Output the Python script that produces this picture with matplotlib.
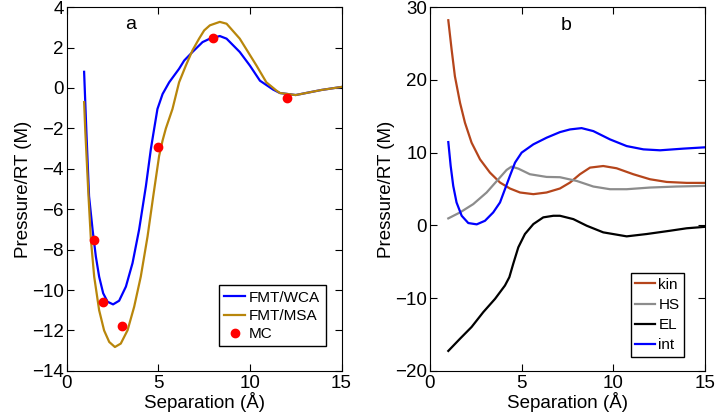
import matplotlib.pyplot as plt
import numpy as np

plt.rcParams['font.family'] = ['Liberation Sans', 'DejaVu Sans']

# panel a: pressure curves
x_wca = [0.96, 1.09, 1.23, 1.42, 1.6, 1.78, 2.0, 2.24, 2.54, 2.87, 3.24, 3.6, 3.96, 4.33,
         4.6, 4.73, 4.96, 5.24, 5.6, 6.14, 6.42, 6.87, 7.42, 7.82, 8.36, 8.73, 9.45,
         10.0, 10.55, 11.27, 11.64, 12.5, 13.9, 15.0]
y_wca = [0.8, -2.3, -5.36, -7.0, -8.34, -9.34, -10.16, -10.58, -10.71, -10.53, -9.83, -8.67,
         -7.01, -4.86, -3.03, -2.3, -1.04, -0.3, 0.28, 0.95, 1.36, 1.78, 2.27, 2.44, 2.57,
         2.44, 1.78, 1.11, 0.36, -0.08, -0.25, -0.35, -0.1, 0.05]
x_msa = [0.96, 1.02, 1.2, 1.33, 1.51, 1.78, 2.05, 2.33, 2.64, 2.96, 3.33, 3.69, 4.05, 4.42,
         4.73, 5.05, 5.24, 5.42, 5.78, 6.14, 6.51, 6.87, 7.23, 7.51, 7.82, 8.36, 8.73, 9.45,
         10.36, 10.9, 11.45, 11.64, 12.5, 13.9, 15.0]
y_msa = [-0.7, -2.04, -5.36, -7.5, -9.34, -11.0, -12.0, -12.57, -12.82, -12.65, -11.99, -10.83,
         -9.34, -7.35, -5.36, -3.37, -2.6, -2.0, -1.04, 0.28, 1.11, 1.86, 2.44, 2.85, 3.1, 3.27,
         3.18, 2.44, 1.11, 0.28, -0.13, -0.25, -0.35, -0.1, 0.05]
x_mc = [1.5, 2.0, 3.0, 5.0, 8.0, 12.0]
y_mc = [-7.5, -10.6, -11.8, -2.9, 2.45, -0.5]

# panel b: contributions
x_kin = [1.0, 1.18, 1.36, 1.64, 1.91, 2.27, 2.73, 3.27, 3.82, 4.36, 4.91, 5.64, 6.36, 7.09,
         7.64, 8.18, 8.73, 9.45, 10.18, 11.09, 12.0, 12.91, 14.0, 15.0]
y_kin = [28.2, 24.2, 20.5, 16.85, 14.1, 11.37, 9.08, 7.26, 5.89, 5.07, 4.52, 4.29, 4.52, 5.07,
         5.89, 7.03, 7.94, 8.16, 7.85, 7.03, 6.34, 5.97, 5.84, 5.84]
x_hs = [1.0, 1.64, 2.36, 3.09, 3.73, 4.18, 4.45, 4.82, 5.45, 6.36, 7.09, 8.0, 8.91, 9.82,
        10.73, 12.0, 13.45, 15.0]
y_hs = [0.96, 1.78, 2.92, 4.52, 6.34, 7.62, 8.08, 7.8, 7.03, 6.66, 6.62, 6.11, 5.34, 4.97,
        4.97, 5.2, 5.34, 5.43]
x_el = [1.0, 1.64, 2.27, 2.91, 3.55, 4.09, 4.33, 4.54, 4.82, 5.18, 5.64, 6.18, 6.73, 7.09,
        7.82, 8.55, 9.45, 10.73, 11.82, 13.09, 14.0, 15.0]
y_el = [-17.26, -15.58, -13.97, -11.92, -10.1, -8.27, -7.12, -5.3, -3.01, -1.19, 0.18, 1.1,
        1.32, 1.32, 0.86, -0.05, -0.96, -1.51, -1.19, -0.74, -0.4, -0.2]
x_int = [1.0, 1.13, 1.27, 1.45, 1.73, 2.09, 2.55, 3.0, 3.45, 3.82, 4.09, 4.36, 4.64, 5.0,
         5.64, 6.36, 7.09, 7.64, 8.27, 8.91, 9.82, 10.73, 11.64, 12.55, 13.82, 15.0]
y_int = [11.45, 8.16, 5.42, 3.15, 1.32, 0.32, 0.14, 0.63, 1.78, 3.15, 4.97, 6.8, 8.63, 10.0,
         11.14, 12.05, 12.82, 13.19, 13.37, 12.96, 11.82, 10.9, 10.45, 10.32, 10.55, 10.73]

fig = plt.figure(figsize=(7.19, 4.2), dpi=100)
ax1 = fig.add_axes([0.0925, 0.117, 0.3825, 0.866])
ax2 = fig.add_axes([0.598, 0.117, 0.3825, 0.866])

ax1.plot(x_wca, y_wca, color='#0000ff', lw=1.6, label='FMT/WCA')
ax1.plot(x_msa, y_msa, color='#b8860b', lw=1.6, label='FMT/MSA')
ax1.plot(x_mc, y_mc, 'o', color='#ff0000', ms=6, mec='#ff0000', label='MC')
ax1.set_xlim(0, 15)
ax1.set_ylim(-14, 4)
ax1.set_yticks(np.arange(-14, 5, 2))
ax1.text(3.5, 3.15, 'a', fontsize=14, ha='center', va='center')
ax1.legend(loc='lower right', bbox_to_anchor=(0.942, 0.067), borderaxespad=0,
           fontsize=11, fancybox=False, edgecolor='black', framealpha=1,
           handlelength=1.4, borderpad=0.35, labelspacing=0.28, handletextpad=0.25)

ax2.plot(x_kin, y_kin, color='#b5451b', lw=1.6, label='kin')
ax2.plot(x_hs, y_hs, color='#8c8c8c', lw=1.6, label='HS')
ax2.plot(x_el, y_el, color='black', lw=1.6, label='EL')
ax2.plot(x_int, y_int, color='#0000ff', lw=1.6, label='int')
ax2.set_xlim(0, 15)
ax2.set_ylim(-20, 30)
ax2.set_yticks(np.arange(-20, 31, 10))
ax2.text(7.45, 27.5, 'b', fontsize=14, ha='center', va='center')
ax2.legend(loc='lower right', bbox_to_anchor=(0.924, 0.039), borderaxespad=0,
           fontsize=11, fancybox=False, edgecolor='black', framealpha=1,
           handlelength=1.3, borderpad=0.3, labelspacing=0.4, handletextpad=0.2)

for ax in (ax1, ax2):
    ax.set_xticks([0, 5, 10, 15])
    ax.set_xlabel('Separation (Å)', fontsize=13.5, labelpad=0)
    ax.set_ylabel('Pressure/RT (M)', fontsize=13.5, labelpad=0)
    ax.tick_params(direction='in', top=True, right=True, labelsize=13.5, length=5)
    ax.tick_params(axis='x', pad=3)
    ax.tick_params(axis='y', pad=2)

fig.savefig('out.png', dpi=100)
